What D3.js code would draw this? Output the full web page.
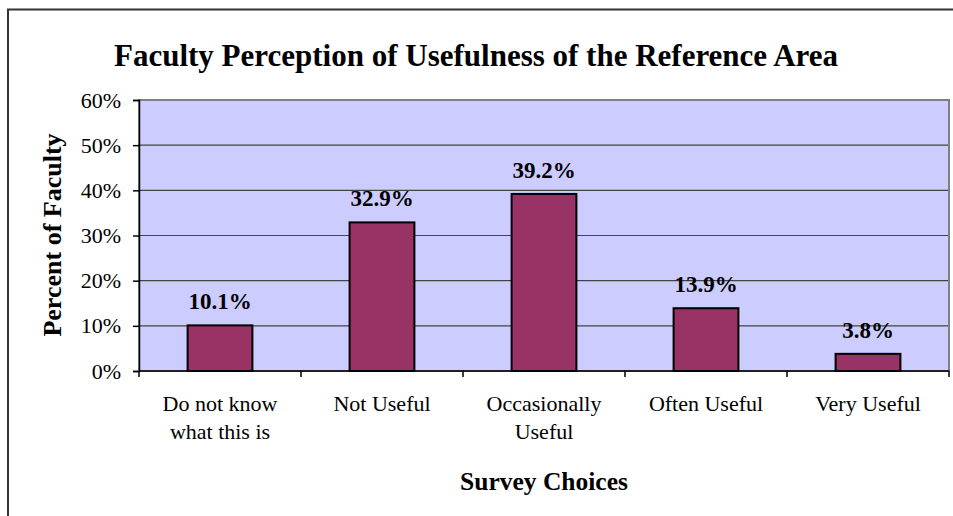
<!DOCTYPE html>
<html>
<head>
<meta charset="utf-8">
<script src="https://cdn.jsdelivr.net/npm/d3@7"></script>
<style>
  html, body { margin: 0; padding: 0; background: #fff; }
  svg { display: block; }
  text { font-family: "Liberation Serif", "Times New Roman", serif; fill: #000; }
</style>
</head>
<body>
<svg id="chart" width="953" height="516"></svg>
<script>
const categories = [["Do not know", "what this is"], ["Not Useful"], ["Occasionally", "Useful"], ["Often Useful"], ["Very Useful"]];
const values = [0.101, 0.329, 0.392, 0.139, 0.038];
const valueLabels = ["10.1%", "32.9%", "39.2%", "13.9%", "3.8%"];
const yTicks = [0, 0.1, 0.2, 0.3, 0.4, 0.5, 0.6];
const titleText = "Faculty Perception of Usefulness of the Reference Area";
const xTitle = "Survey Choices";
const yTitle = "Percent of Faculty";

const svg = d3.select("#chart");
const plot = { left: 139, right: 949, top: 100, bottom: 371 };

// outer frame
svg.append("rect").attr("x", 8).attr("y", 9.5).attr("width", 960).attr("height", 520)
  .attr("fill", "#fff").attr("stroke", "#333").attr("stroke-width", 2);

const x = d3.scaleBand().domain(d3.range(categories.length)).range([plot.left, plot.right]).paddingInner(0.6).paddingOuter(0.3);
const xb = d3.scaleBand().domain(d3.range(categories.length)).range([plot.left, plot.right]);
const y = d3.scaleLinear().domain([0, 0.6]).range([plot.bottom, plot.top]);

// plot background
svg.append("rect").attr("x", plot.left).attr("y", plot.top)
  .attr("width", plot.right - plot.left).attr("height", plot.bottom - plot.top)
  .attr("fill", "#CCCCFF");

// gridlines
svg.append("g").selectAll("line").data(yTicks.filter(d => d > 0 && d < 0.6)).join("line")
  .attr("x1", plot.left).attr("x2", plot.right)
  .attr("y1", d => y(d)).attr("y2", d => y(d))
  .attr("stroke", "#444").attr("stroke-width", 1.2);

// plot border
svg.append("rect").attr("x", plot.left).attr("y", plot.top)
  .attr("width", plot.right - plot.left).attr("height", plot.bottom - plot.top)
  .attr("fill", "none").attr("stroke", "#808080").attr("stroke-width", 2);

// bars
svg.append("g").selectAll("rect").data(values).join("rect")
  .attr("x", (d, i) => x(i)).attr("width", x.bandwidth())
  .attr("y", d => y(d)).attr("height", d => plot.bottom - y(d))
  .attr("fill", "#993366").attr("stroke", "#000").attr("stroke-width", 2);

// value labels
svg.append("g").selectAll("text").data(values).join("text")
  .attr("x", (d, i) => x(i) + x.bandwidth() / 2)
  .attr("y", d => y(d) - 16)
  .attr("text-anchor", "middle")
  .attr("font-weight", "bold").attr("font-size", 23)
  .text((d, i) => valueLabels[i]);

// y axis
const yAxis = d3.axisLeft(y).tickValues(yTicks).tickFormat(d3.format(".0%")).tickSize(6).tickPadding(12);
const gy = svg.append("g").attr("transform", `translate(${plot.left},0)`).call(yAxis);
gy.select(".domain").attr("stroke", "#000").attr("stroke-width", 1.5);
gy.selectAll(".tick line").attr("stroke", "#000").attr("stroke-width", 1.5);
gy.selectAll(".tick text").attr("font-family", "Liberation Serif").attr("font-size", 22).attr("fill", "#000");

// x axis (ticks at band boundaries)
svg.append("line").attr("x1", plot.left).attr("x2", plot.right)
  .attr("y1", plot.bottom).attr("y2", plot.bottom).attr("stroke", "#000").attr("stroke-width", 1.5);
const bounds = d3.range(categories.length + 1).map(i => i < categories.length ? xb(i) : plot.right);
svg.append("g").selectAll("line").data(bounds).join("line")
  .attr("x1", d => d).attr("x2", d => d)
  .attr("y1", plot.bottom).attr("y2", plot.bottom + 6)
  .attr("stroke", "#000").attr("stroke-width", 1.5);

const xl = svg.append("g").selectAll("text").data(categories).join("text")
  .attr("x", (d, i) => xb(i) + xb.bandwidth() / 2)
  .attr("y", 411)
  .attr("text-anchor", "middle").attr("font-size", 22);
xl.each(function(lines) {
  const t = d3.select(this);
  lines.forEach((ln, j) => {
    t.append("tspan").attr("x", t.attr("x")).attr("dy", j === 0 ? 0 : 28).text(ln);
  });
});

// titles
svg.append("text").attr("x", 476).attr("y", 66).attr("text-anchor", "middle")
  .attr("font-weight", "bold").attr("font-size", 31).text(titleText);
svg.append("text").attr("x", (plot.left + plot.right) / 2).attr("y", 490).attr("text-anchor", "middle")
  .attr("font-weight", "bold").attr("font-size", 25.5).text(xTitle);
svg.append("text").attr("transform", `translate(61,235) rotate(-90)`).attr("text-anchor", "middle")
  .attr("font-weight", "bold").attr("font-size", 26).text(yTitle);
</script>
</body>
</html>
